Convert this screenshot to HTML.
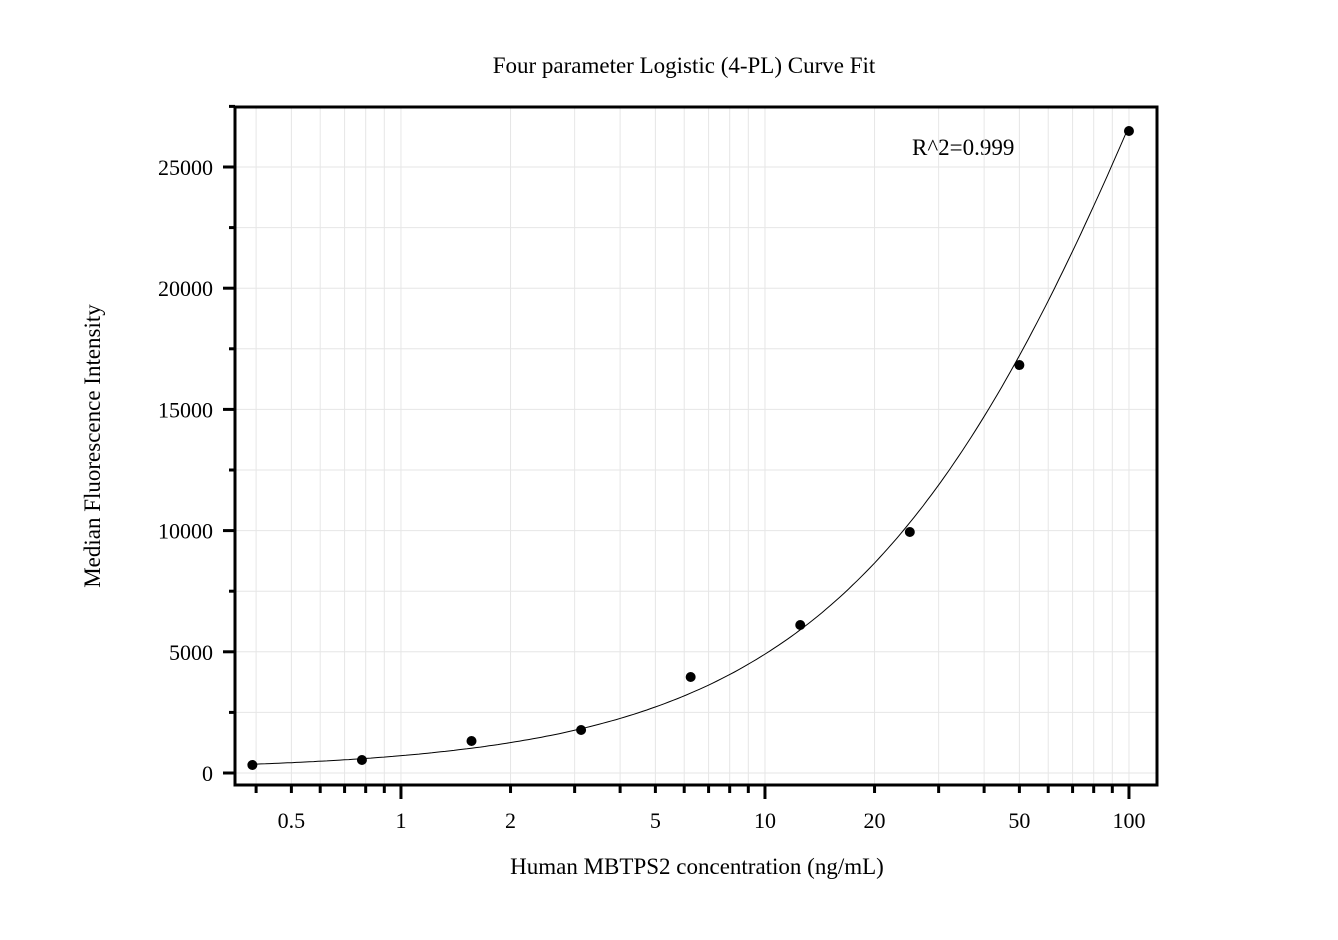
<!DOCTYPE html>
<html><head><meta charset="utf-8"><style>
body{margin:0;background:#fff}
svg text{font-family:"Liberation Serif",serif;fill:#000}
</style></head><body>
<svg id="c" width="1338" height="935" xmlns="http://www.w3.org/2000/svg">
<text x="684" y="73" font-size="23" text-anchor="middle">Four parameter Logistic (4-PL) Curve Fit</text>
<text x="697" y="874" font-size="23" text-anchor="middle">Human MBTPS2 concentration (ng/mL)</text>
<text transform="translate(100,446) rotate(-90)" font-size="23" text-anchor="middle">Median Fluorescence Intensity</text>
<text x="912" y="155" font-size="23">R^2=0.999</text>
<g id="grid"></g><g id="curve"></g><g id="pts"></g><g id="axes"></g>
</svg>
<script>
const xValues=[0.390625,0.78125,1.5625,3.125,6.25,12.5,25,50,100];
const yValues=[330,536,1320,1774,3960,6105,9942,16830,26485];
const fitParams={A:100,B:0.92,C:170,D:70000};
const xTickLabels=[0.5,1,2,5,10,20,50,100];
const yTickLabels=[0,5000,10000,15000,20000,25000];
const L=235,R=1157,T=107,B=785;
const xmin=Math.log10(0.35),xmax=Math.log10(119.4),ymin=-495,ymax=27475;
const X=v=>L+(Math.log10(v)-xmin)/(xmax-xmin)*(R-L);
const Y=v=>B-(v-ymin)/(ymax-ymin)*(B-T);
const NS='http://www.w3.org/2000/svg';
function mk(p,t,a){const e=document.createElementNS(NS,t);for(const k in a)e.setAttribute(k,a[k]);document.getElementById(p).appendChild(e);return e;}
// grid + ticks
for(let d=-1;d<=2;d++)for(let m=1;m<=9;m++){const v=m*Math.pow(10,d);if(v<0.35||v>119.4)continue;const x=X(v);
 const g=mk('grid','line',{x1:x,x2:x,y1:T,y2:B,stroke:'#e6e6e6','stroke-width':1});
 
 const t=mk('axes','line',{x1:x,x2:x,y1:B,y2:B+(m==1?14:8),stroke:'#000','stroke-width':3});
 }
for(let v=0;v<=27500;v+=2500){const y=Y(v);
 const g=mk('grid','line',{x1:L,x2:R,y1:y,y2:y,stroke:'#e6e6e6','stroke-width':1});
 
 const t=mk('axes','line',{x1:L,x2:L-(v%5000==0?12:6),y1:y,y2:y,stroke:'#000','stroke-width':3});
 }
xTickLabels.forEach(v=>{const t=mk('axes','text',{x:X(v),y:828,'font-size':22,'text-anchor':'middle'});t.textContent=v;
 });
yTickLabels.forEach(v=>{const t=mk('axes','text',{x:213,y:Y(v)+8,'font-size':22,'text-anchor':'end'});t.textContent=v;
 });
const fr=mk('axes','rect',{x:L,y:T,width:R-L,height:B-T,fill:'none',stroke:'#000','stroke-width':3});

// curve
const f=x=>fitParams.D+(fitParams.A-fitParams.D)/(1+Math.pow(x/fitParams.C,fitParams.B));
let d='';const x0=xValues[0],x1=xValues[xValues.length-1];
for(let i=0;i<=200;i++){const x=x0*Math.pow(x1/x0,i/200);d+=(i?'L':'M')+X(x).toFixed(1)+','+Y(f(x)).toFixed(1);}
const c=mk('curve','path',{d:d,fill:'none',stroke:'#000','stroke-width':1});

xValues.forEach((x,i)=>{const p=mk('pts','circle',{cx:X(x),cy:Y(yValues[i]),r:5,fill:'#000'});
 });
</script>
</body></html>
